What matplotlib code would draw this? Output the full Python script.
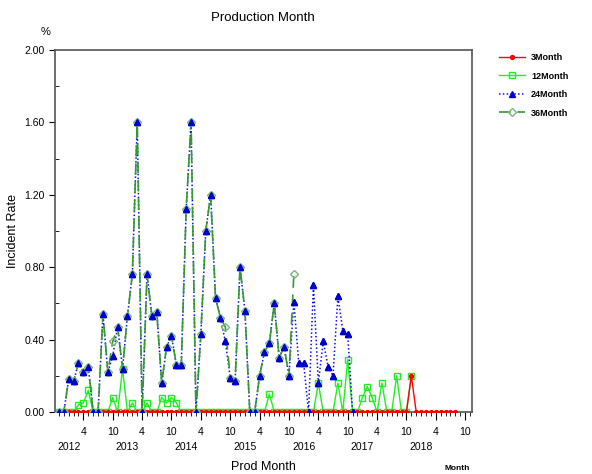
import numpy as np
import pandas as pd
import matplotlib
matplotlib.use("Agg")
import matplotlib.pyplot as plt
from matplotlib.ticker import FixedLocator, MultipleLocator, NullFormatter
from matplotlib.transforms import blended_transform_factory

plt.rcParams['font.family'] = ['Liberation Sans Narrow', 'Liberation Sans', 'DejaVu Sans']

# production months, first point is 2011-11
start_month = "2011-11"

m3 = [0] * 72 + [0.20] + [0] * 9

m12 = [0, 0, 0, 0, 0.04, 0.05, 0.12, 0, 0, 0, 0, 0.08, 0, 0.24, 0, 0.05,
       0, 0, 0.05, 0, 0, 0.08, 0.05, 0.08, 0.05, 0, 0, 0, 0, 0, 0,
       0, 0, 0, 0, 0, 0, 0, 0, 0, 0, 0, 0, 0.10, 0, 0, 0,
       0, 0, 0, 0, 0, 0, 0.16, 0, 0, 0, 0.16, 0, 0.29, 0, 0,
       0.08, 0.14, 0.08, 0, 0.16, 0, 0, 0.20, 0, 0, 0.20]

m24 = [0, 0, 0.18, 0.17, 0.27, 0.22, 0.25, 0, 0, 0.54, 0.22, 0.31, 0.47,
       0.24, 0.53, 0.76, 1.60, 0, 0.76, 0.53, 0.55, 0.16, 0.36, 0.42, 0.26,
       0.26, 1.12, 1.60, 0, 0.43, 1.00, 1.20, 0.63, 0.52, 0.39, 0.19, 0.17,
       0.80, 0.56, 0, 0, 0.20, 0.33, 0.38, 0.60, 0.30, 0.36, 0.20, 0.61,
       0.27, 0.27, 0, 0.70, 0.16, 0.39, 0.25, 0.20, 0.64, 0.45, 0.43, 0]

m36 = [0, 0, 0.18, 0.17, 0.27, 0.22, 0.25, 0, 0, 0.54, 0.22, 0.39, 0.47,
       0.24, 0.53, 0.76, 1.60, 0, 0.76, 0.53, 0.55, 0.16, 0.36, 0.42, 0.26,
       0.26, 1.12, 1.60, 0, 0.43, 1.00, 1.20, 0.63, 0.52, 0.47, 0.19, 0.17,
       0.80, 0.56, 0, 0, 0.20, 0.33, 0.38, 0.60, 0.30, 0.36, 0.20, 0.76]

years = [2012, 2013, 2014, 2015, 2016, 2017, 2018]
month_ticks = [4, 10]


def xpos(n):
    # month offset from Jan 2012
    p0 = pd.Period(start_month, freq="M")
    base = (p0 - pd.Period("2012-01", freq="M")).n
    return np.arange(n) + base


fig = plt.figure(figsize=(5.92, 4.74), dpi=100)
ax = fig.add_axes([0.0929, 0.1308, 0.7036, 0.7637])

tri = dict(marker='^', ms=4.8, mfc='#0000cc', mec='#0000cc')

h3, = ax.plot(xpos(len(m3)), m3, color='red', lw=1, marker='o', ms=2.8, zorder=3)
h12, = ax.plot(xpos(len(m12)), m12, color='#22ee22', lw=1, marker='s', ms=3.8,
               mfc='none', mec='#22ee22', zorder=2)
h24, = ax.plot(xpos(len(m24)), m24, color='#1010e0', lw=1.1, ls=(0, (1, 1.5)),
               zorder=4, **tri)
h36, = ax.plot(xpos(len(m36)), m36, color='#339933', lw=1.2, ls=(0, (7, 4)),
               marker='D', ms=4, mfc='none', mec='#7ab87a', zorder=5)
# triangles drawn again so they sit above the 36Month dashes
ax.plot(xpos(len(m24)), m24, ls='none', zorder=6, **tri)

ax.set_xlim(-2.8, 82.3)
ax.set_ylim(0, 2.0)

ax.yaxis.set_major_locator(MultipleLocator(0.4))
ax.yaxis.set_minor_locator(MultipleLocator(0.2))
ax.set_yticklabels([f"{v:.2f}" for v in ax.get_yticks()])

major = [(y - 2012) * 12 + m - 1 for y in range(2012, 2019) for m in month_ticks]
ax.xaxis.set_major_locator(FixedLocator(major))
ax.set_xticklabels([str(m) for y in range(2012, 2019) for m in month_ticks])
ax.xaxis.set_minor_locator(MultipleLocator(1))
ax.xaxis.set_minor_formatter(NullFormatter())

ax.tick_params(axis='x', which='major', direction='out', length=6, labelsize=7.5, pad=5)
ax.tick_params(axis='x', which='minor', direction='out', length=3)
ax.tick_params(axis='y', which='major', direction='out', length=4, labelsize=7.5)
ax.tick_params(axis='y', which='minor', direction='in', length=3)

trans = blended_transform_factory(ax.transData, ax.transAxes)
for y in years:
    ax.text((y - 2012) * 12, -0.097, str(y), ha='center', va='center', fontsize=7.5,
            transform=trans, clip_on=False)

for s in ax.spines.values():
    s.set_color('#555555')
    s.set_linewidth(1.2)

ax.set_ylabel("Incident Rate", fontsize=9, labelpad=4)
fig.text(263 / 592, 1 - 467 / 474, "Prod Month", ha='center', va='center', fontsize=9)
fig.text(457 / 592, 1 - 468 / 474, "Month", ha='center', va='center', fontsize=6,
         fontweight='bold')
fig.text(263 / 592, 1 - 18 / 474, "Production Month", ha='center', va='center', fontsize=9.5)
fig.text(46 / 592, 1 - 32 / 474, "%", ha='center', va='center', fontsize=8)

fig.legend([h3, h12, h24, h36], ['3Month', '12Month', '24Month', '36Month'],
           loc='upper left', bbox_to_anchor=(0.83, 0.905), frameon=False,
           handlelength=2.8, labelspacing=1.05, handletextpad=0.7,
           prop={'weight': 'bold', 'size': 6.5})

fig.savefig("out.png", dpi=100)
